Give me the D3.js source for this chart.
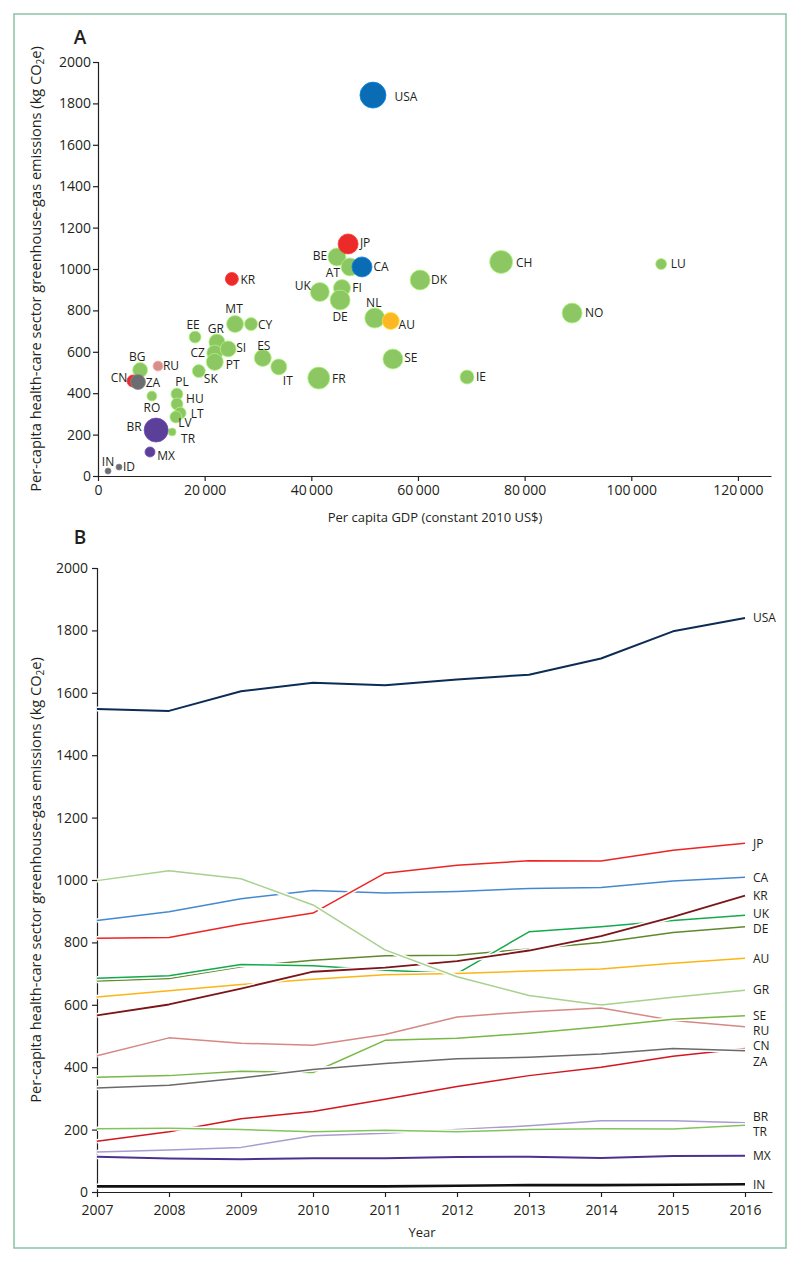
<!DOCTYPE html>
<html><head><meta charset="utf-8">
<script src="https://cdn.jsdelivr.net/npm/d3@7"></script>
<style>
body{margin:0;background:#fff;}
svg{display:block;font-family:"Open Sans",sans-serif;}
</style></head>
<body>
<svg id="chart" width="800" height="1263"></svg>
<script>
// ---------- Panel A data ----------
const countriesA = ["USA","JP","BE","AT","CA","KR","UK","FI","DE","NL","AU","DK","CH","LU","NO","SE","IE","FR","IT","ES","MT","CY","EE","GR","SI","CZ","PT","SK","BG","RU","CN","ZA","RO","PL","HU","LT","LV","TR","BR","MX","IN","ID"];
const gdpA = [51560,46900,44800,47250,49500,25100,41600,45750,45400,51900,54900,60400,75600,105600,88900,55300,69200,41400,33900,30900,25700,28700,18200,22300,24400,21900,21900,18900,7900,11250,6560,7500,10100,14800,14800,15400,14600,13900,10900,9750,1880,3940];
const emissionsA = [1840,1121,1058,1010,1010,952,889,908,850,763,749,947,1034,1024,787,565,478,473,527,570,734,734,671,647,614,594,551,507,512,531,459,454,386,396,348,304,285,213,222,116,24,43];
const bubbleValueA = [169,100,81,81,100,42,90,72,100,100,72,100,132,30,100,100,49,121,64,72,72,42,36,64,64,64,72,42,56,25,36,56,25,36,36,36,36,16,144,25,9,9];
const groupA = ["us","red","green","green","us","red","green","green","green","green","au","green","green","green","green","green","green","green","green","green","green","green","green","green","green","green","green","green","green","ru","red","gray","green","green","green","green","green","green","purple","purple","gray","gray"];
const xTicksA = [0,20000,40000,60000,80000,100000,120000];
const yTicks = [0,200,400,600,800,1000,1200,1400,1600,1800,2000];

// ---------- Panel B data ----------
const years = [2007,2008,2009,2010,2011,2012,2013,2014,2015,2016];
const seriesNames = ["CA","JP","DE","UK","AU","KR","GR","RU","SE","CN","ZA","BR","TR","MX","IN","USA"];
const CA  = [870,898,940,966,958,963,973,976,997,1009];
const JP  = [813,816,858,894,1022,1047,1062,1061,1095,1118];
const DE  = [676,684,722,743,757,759,779,800,832,850];
const UK  = [685,693,729,725,711,700,834,850,870,887];
const AU  = [625,645,665,682,696,700,708,715,733,749];
const KR  = [566,601,652,706,719,740,774,820,882,950];
const GR  = [998,1030,1004,920,776,690,630,599,624,647];
const RU  = [437,494,477,470,505,561,578,590,550,530];
const SE  = [368,373,387,383,486,493,509,530,554,565];
const CN  = [163,193,235,258,297,338,373,400,435,460];
const ZA  = [333,342,365,393,412,427,432,442,460,453];
const BR  = [128,135,143,180,188,200,212,228,228,222];
const TR  = [203,204,200,193,198,193,200,203,202,214];
const MX  = [113,107,105,108,108,112,113,109,115,116];
const IN  = [18,18,18,18,18,20,22,22,23,25];
const USA = [1548,1542,1605,1632,1624,1643,1658,1710,1797,1840];
const seriesValues = {CA,JP,DE,UK,AU,KR,GR,RU,SE,CN,ZA,BR,TR,MX,IN,USA};

// ---------- styles / layout (not data) ----------
const groupColor = {us:"#0a6cb5", red:"#ec2a2a", green:"#8cc763", au:"#fbb724", ru:"#d68f8c", gray:"#6b6d70", purple:"#5b3f98"};
const lineColor = {CA:"#4489d0",JP:"#ee2424",DE:"#5e8a2c",UK:"#15a94d",AU:"#fdb515",KR:"#7c1518",GR:"#a7d18c",RU:"#d68884",SE:"#78b845",CN:"#d4161e",ZA:"#6a6a6a",BR:"#a99bd0",TR:"#82c45b",MX:"#4d318f",IN:"#111111",USA:"#0c2c55"};
const lineWidth = {USA:2, IN:2.6, MX:2, KR:1.8};
const labelOffsetA = {USA:[33,2],JP:[17,-1],BE:[-17,-1],AT:[-17,6],CA:[19,0],KR:[16,1],UK:[-17,-6],FI:[15,0],DE:[0,17],NL:[-1,-15],AU:[16,4],DK:[19,0],CH:[23,1],LU:[17,0],NO:[22,0],SE:[18,-1],IE:[14,0],FR:[20,1],IT:[9,14],ES:[1,-12],MT:[-1,-15],CY:[14,1],EE:[-2,-12],GR:[-1,-13],SI:[13,-1],CZ:[-17,0],PT:[18,3],SK:[12,8],BG:[-3,-13],RU:[13,0],CN:[-14,-3],ZA:[15,1],RO:[0,12],PL:[5,-12],HU:[18,-5],LT:[17,1],LV:[9,6],TR:[16,7],BR:[-22,-3],MX:[16,4],IN:[0,-9],ID:[10,0]};
const labelShiftB = {RU:4, CN:-3, ZA:11, BR:-6, TR:6, UK:-2, DE:2};

const svg = d3.select("#chart");
const ink = "#231f20";

// frame
svg.append("rect").attr("x",14).attr("y",14).attr("width",772).attr("height",1234)
  .attr("fill","none").attr("stroke","#86c3a6").attr("stroke-width",1.5);

function yTitle(cx, cy){
  const t = svg.append("text").attr("transform",`translate(${cx},${cy}) rotate(-90)`)
    .attr("text-anchor","middle").attr("font-size",14.6).attr("fill",ink);
  t.append("tspan").text("Per-capita health-care sector greenhouse-gas emissions (kg CO");
  t.append("tspan").attr("font-size",10).attr("dy",3).text("2");
  t.append("tspan").attr("dy",-3).text("e)");
}
function styleAxis(g){
  g.selectAll("path,line").attr("stroke",ink).attr("stroke-width",1.2);
  g.selectAll("text").attr("font-size",14).attr("fill",ink).attr("font-family","'Open Sans',sans-serif");
}
const fmt = d => d3.format(",")(d).replace(/,/g,"\u2009");

// ---------- Panel A ----------
const xA = d3.scaleLinear().domain([0,126200]).range([98,771]);
const yA = d3.scaleLinear().domain([0,2000]).range([476,62]);
const rA = d3.scaleSqrt().domain([0,169]).range([0,13]);

svg.append("text").attr("x",80).attr("y",44).attr("text-anchor","middle")
  .attr("font-size",19).attr("font-weight",600).attr("fill",ink).text("A");

const gxA = svg.append("g").attr("transform",`translate(0,${yA(0)})`)
  .call(d3.axisBottom(xA).tickValues(xTicksA).tickFormat(fmt).tickSize(5).tickSizeOuter(0).tickPadding(4));
styleAxis(gxA);
const gyA = svg.append("g").attr("transform",`translate(${xA(0)},0)`)
  .call(d3.axisLeft(yA).tickValues(yTicks).tickFormat(d=>d).tickSize(5).tickSizeOuter(5).tickPadding(2));
styleAxis(gyA);

svg.append("text").attr("x",435).attr("y",522).attr("text-anchor","middle")
  .attr("font-size",13).attr("fill",ink).text("Per capita GDP (constant 2010 US$)");
yTitle(41,269);

const ptsA = countriesA.map((c,i)=>({c, x:gdpA[i], y:emissionsA[i], v:bubbleValueA[i], g:groupA[i]}));
const drawOrder = ["LU","CH","NO","IE","DK","SE","FR","IT","ES","UK","FI","DE","BE","AT","NL","AU","CA","JP","USA","KR","MT","CY","EE","GR","CZ","PT","SI","SK","BG","RU","CN","ZA","RO","PL","HU","LT","LV","TR","BR","MX","IN","ID"];
const ordered = drawOrder.map(c=>ptsA.find(p=>p.c===c));
svg.append("g").selectAll("circle").data(ordered).join("circle")
  .attr("cx",d=>xA(d.x)).attr("cy",d=>yA(d.y)).attr("r",d=>rA(d.v))
  .attr("fill",d=>groupColor[d.g])
  .attr("stroke",d=>d3.color(groupColor[d.g]).brighter(0.6))
  .attr("stroke-width",0.8);
svg.append("g").selectAll("text").data(ptsA).join("text")
  .attr("x",d=>xA(d.x)+labelOffsetA[d.c][0]).attr("y",d=>yA(d.y)+labelOffsetA[d.c][1])
  .attr("dy","0.36em").attr("text-anchor","middle").attr("font-size",12).attr("fill",ink)
  .text(d=>d.c);

// ---------- Panel B ----------
const xB = d3.scaleLinear().domain([2007,2016.375]).range([97,772]);
const yB = d3.scaleLinear().domain([0,2000]).range([1192,568]);

svg.append("text").attr("x",80).attr("y",544).attr("text-anchor","middle")
  .attr("font-size",19).attr("font-weight",600).attr("fill",ink).text("B");

const gxB = svg.append("g").attr("transform",`translate(0,${yB(0)})`)
  .call(d3.axisBottom(xB).tickValues(years).tickFormat(d=>d).tickSize(5).tickSizeOuter(0).tickPadding(8));
styleAxis(gxB);
const gyB = svg.append("g").attr("transform",`translate(${xB(2007)},0)`)
  .call(d3.axisLeft(yB).tickValues(yTicks).tickFormat(d=>d).tickSize(5).tickSizeOuter(5).tickPadding(4));
styleAxis(gyB);

svg.append("text").attr("x",422).attr("y",1237).attr("text-anchor","middle")
  .attr("font-size",13).attr("fill",ink).text("Year");
yTitle(41,880);

const line = d3.line().x((d,i)=>xB(years[i])).y(d=>yB(d));
const gl = svg.append("g");
seriesNames.forEach(name=>{
  const vals = seriesValues[name];
  const w = lineWidth[name]||1.5;
  gl.append("path").attr("d",line(vals)).attr("fill","none")
    .attr("stroke","#fff").attr("stroke-width",w+3).attr("stroke-linejoin","round");
  gl.append("path").attr("d",line(vals)).attr("fill","none")
    .attr("stroke",lineColor[name]).attr("stroke-width",w).attr("stroke-linejoin","round");
});
svg.append("g").selectAll("text").data(seriesNames).join("text")
  .attr("x",xB(2016)+8).attr("y",d=>yB(seriesValues[d][9])+(labelShiftB[d]||0))
  .attr("dy","0.36em").attr("font-size",12).attr("fill",ink).text(d=>d);
</script>
</body></html>
